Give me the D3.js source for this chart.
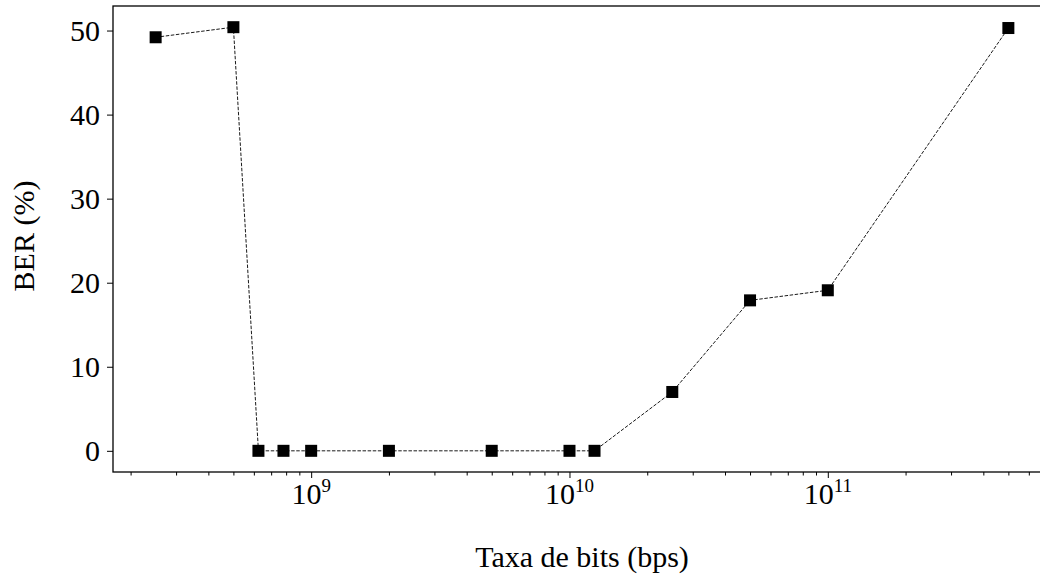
<!DOCTYPE html>
<html>
<head>
<meta charset="utf-8">
<script src="https://cdn.jsdelivr.net/npm/d3@7"></script>
<style>
  html, body { margin: 0; padding: 0; background: #fff; }
  svg { display: block; }
</style>
</head>
<body>
<svg id="chart" width="1040" height="576"></svg>
<script>
// Bit rate (bps) tested and measured bit error rate (%)
const rates = [2.5e8, 5e8, 6.25e8, 7.8125e8, 1e9, 2e9, 5e9, 1e10, 1.25e10, 2.5e10, 5e10, 1e11, 5e11];
const ber   = [49.2, 50.4, 0, 0, 0, 0, 0, 0, 0, 7.0, 17.9, 19.1, 50.3];

// Axis ticks and labels
const yTicks = [0, 10, 20, 30, 40, 50];
const xMajorExponents = [9, 10, 11];
const xLabel = "Taxa de bits (bps)";
const yLabel = "BER (%)";

const W = 1040, H = 576;
const plot = { left: 113, right: 1051, top: 6, bottom: 472 };
const FONT = '"Liberation Serif", "Times New Roman", serif';
const fontSize = 30;

const svg = d3.select("#chart");

// Log x range padded by 5% of the data span (in decades), linear y likewise
const lx = d3.extent(rates, d => Math.log10(d));
const lpad = (lx[1] - lx[0]) * 0.05;
const x = d3.scaleLog()
  .domain([Math.pow(10, lx[0] - lpad), Math.pow(10, lx[1] + lpad)])
  .range([plot.left, plot.right]);

const ye = [0, d3.max(ber)];
const ypad = (ye[1] - ye[0]) * 0.05;
const y = d3.scaleLinear()
  .domain([ye[0] - ypad, ye[1] + ypad])
  .range([plot.bottom, plot.top]);

// Minor x ticks: 2..9 times each decade inside the domain
const [d0, d1] = x.domain();
const minors = [];
for (let e = Math.floor(Math.log10(d0)); e <= Math.ceil(Math.log10(d1)); e++) {
  for (let m = 2; m <= 9; m++) {
    const v = m * Math.pow(10, e);
    if (v >= d0 && v <= d1) minors.push(v);
  }
}
const majors = xMajorExponents.map(e => Math.pow(10, e));

// X axis ticks
const gxMinor = svg.append("g")
  .attr("transform", `translate(0,${plot.bottom})`)
  .call(d3.axisBottom(x).tickValues(minors).tickSize(3.5).tickFormat(""));
const gxMajor = svg.append("g")
  .attr("transform", `translate(0,${plot.bottom})`)
  .call(d3.axisBottom(x).tickValues(majors).tickSize(6).tickFormat(""));
[gxMinor, gxMajor].forEach(g => {
  g.select(".domain").remove();
  g.selectAll(".tick line").attr("stroke", "#000").attr("stroke-width", 1);
});

// Power-of-ten labels with superscript exponents
const xt = svg.append("g").selectAll("text")
  .data(xMajorExponents)
  .join("text")
  .attr("x", d => x(Math.pow(10, d)))
  .attr("y", 504)
  .attr("text-anchor", "middle")
  .style("font-family", FONT)
  .style("font-size", fontSize + "px")
  .style("fill", "#000");
xt.append("tspan").text("10");
xt.append("tspan")
  .attr("dy", -12)
  .style("font-size", "19px")
  .text(d => d);

// Y axis
const gy = svg.append("g")
  .attr("transform", `translate(${plot.left},0)`)
  .call(d3.axisLeft(y).tickValues(yTicks).tickSize(6).tickPadding(7).tickFormat(d3.format("d")));
gy.select(".domain").remove();
gy.selectAll(".tick line").attr("stroke", "#000").attr("stroke-width", 1);
gy.selectAll(".tick text")
  .attr("dy", "0.33em")
  .style("font-family", FONT)
  .style("font-size", fontSize + "px")
  .style("fill", "#000");

// Frame
svg.append("rect")
  .attr("x", plot.left)
  .attr("y", plot.top)
  .attr("width", plot.right - plot.left)
  .attr("height", plot.bottom - plot.top)
  .attr("fill", "none")
  .attr("stroke", "#000")
  .attr("stroke-width", 1.3);

// Dashed connecting line
const pts = rates.map((r, i) => [r, ber[i]]);
svg.append("path")
  .datum(pts)
  .attr("fill", "none")
  .attr("stroke", "#000")
  .attr("stroke-width", 0.9)
  .attr("stroke-dasharray", "3.5,1.6")
  .attr("d", d3.line().x(d => x(d[0])).y(d => y(d[1])));

// Square markers
const ms = 12;
svg.append("g").selectAll("rect")
  .data(pts)
  .join("rect")
  .attr("x", d => x(d[0]) - ms / 2)
  .attr("y", d => y(d[1]) - ms / 2)
  .attr("width", ms)
  .attr("height", ms)
  .attr("fill", "#000");

// Axis titles
svg.append("text")
  .attr("x", (plot.left + plot.right) / 2)
  .attr("y", 567)
  .attr("text-anchor", "middle")
  .style("font-family", FONT)
  .style("font-size", fontSize + "px")
  .style("fill", "#000")
  .text(xLabel);

svg.append("text")
  .attr("transform", `translate(34,236) rotate(-90)`)
  .attr("text-anchor", "middle")
  .style("font-family", FONT)
  .style("font-size", fontSize + "px")
  .style("fill", "#000")
  .text(yLabel);
</script>
</body>
</html>
